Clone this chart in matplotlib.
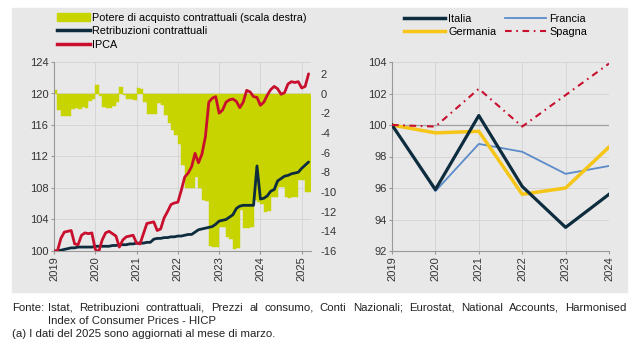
import numpy as np
import matplotlib
matplotlib.use("Agg")
from matplotlib import pyplot as plt
from matplotlib.patches import Rectangle, Patch
from matplotlib.lines import Line2D

plt.rcParams['font.family'] = ['Liberation Sans', 'DejaVu Sans']
plt.rcParams['axes.unicode_minus'] = False

# --- dati mensili (gen 2019 - mar 2025) ---
ipca = [100.0, 100.0, 101.6, 102.4, 102.5, 102.6, 100.9, 100.8, 102.0, 102.3, 102.2, 102.3,
        100.2, 99.9, 101.4, 102.3, 102.5, 102.2, 101.9, 100.5, 101.4, 101.8, 101.9, 102.0,
        101.0, 100.9, 102.2, 103.5, 103.6, 103.7, 102.6, 102.8, 104.2, 105.0, 105.9, 106.1,
        106.2, 107.7, 109.4, 109.9, 110.7, 112.4, 111.2, 112.3, 114.5, 118.9, 119.4, 119.6,
        117.5, 117.9, 118.9, 119.2, 119.3, 119.0, 118.2, 118.9, 120.4, 120.2, 119.6, 119.5,
        118.5, 118.9, 119.8, 120.5, 120.9, 120.6, 119.9, 120.1, 121.2, 121.5, 121.4, 121.5,
        120.7, 120.9, 122.5]
retribuzioni = [100.0, 100.0, 100.1, 100.2, 100.3, 100.4, 100.4, 100.5, 100.5, 100.5, 100.5, 100.5,
                100.6, 100.6, 100.6, 100.6, 100.6, 100.7, 100.7, 100.8, 100.8, 100.8, 100.9, 100.9,
                101.0, 101.0, 101.0, 101.1, 101.1, 101.5, 101.6, 101.6, 101.7, 101.7, 101.8, 101.8,
                101.9, 101.9, 102.0, 102.1, 102.1, 102.4, 102.7, 102.8, 102.9, 103.0, 103.1, 103.4,
                103.8, 103.9, 104.0, 104.3, 104.6, 105.4, 105.7, 105.8, 105.8, 105.8, 105.8, 110.8,
                106.6, 106.7, 107.0, 107.6, 107.8, 108.9, 109.2, 109.5, 109.6, 109.8, 109.9, 110.0,
                110.5, 110.9, 111.3]
potere = [0.4, -1.7, -2.3, -2.3, -2.3, -1.6, -1.5, -1.6, -1.4, -1.5, -0.8, -0.6,
          0.9, -0.3, -1.4, -1.5, -1.5, -1.3, -0.9, 0.7, -0.2, -0.6, -0.6, -0.7,
          0.6, 0.5, -0.9, -2.1, -2.1, -2.1, -1.0, -1.2, -2.2, -3.0, -3.7, -4.2,
          -5.1, -7.3, -9.6, -9.6, -9.6, -8.5, -9.6, -10.8, -10.9, -15.5, -15.6, -15.6,
          -13.6, -13.6, -14.6, -14.8, -15.8, -15.7, -11.8, -13.7, -13.7, -13.6, -10.8, -11.0,
          -11.2, -12.0, -11.9, -10.5, -10.5, -9.5, -9.5, -10.5, -10.6, -10.5, -10.5, -8.8,
          -8.8, -10.0, -10.0]
mesi = 2019 + np.arange(len(ipca)) / 12

# --- dati annuali ---
anni = [2019, 2020, 2021, 2022, 2023, 2024]
italia = [100.0, 95.9, 100.6, 96.1, 93.5, 95.6]
francia = [100.0, 95.8, 98.8, 98.3, 96.9, 97.4]
germania = [100.0, 99.5, 99.6, 95.6, 96.0, 98.6]
spagna = [100.0, 99.9, 102.3, 99.9, 101.9, 103.9]

BG = '#e8e8e8'
GRID = '#d3d3d3'
TXT = '#333333'
GIALLO = '#c8d400'
ROSSO = '#c8102e'
BLU = '#0d2c3e'
SPAGNA_LS = (0, (3.2, 2.2, 0.8, 2.2))

fig = plt.figure(figsize=(6.4, 3.43), dpi=100)
fig.patches.append(Rectangle((12/640, 1-292/343), 615/640, 284/343,
                             transform=fig.transFigure, color=BG, zorder=-5))

# ---------------- grafico sinistro ----------------
ax = fig.add_axes([54/640, 1-251/343, 257/640, 189/343])
ax.patch.set_visible(False)
ax2 = ax.twinx()
ax.set_xlim(2019, 2019 + 74.7/12)
ax.set_ylim(100, 124)
ax2.set_ylim(-16, 3.2)
ax.set_yticks(range(100, 125, 4))
ax2.set_yticks(range(-16, 3, 2))
ax.set_xticks(range(2019, 2026))
ax.set_xticklabels([str(a) for a in range(2019, 2026)], rotation=90)

ax.set_axisbelow(True)
ax.grid(True, color=GRID, lw=0.6)
# barre sulla scala destra, disegnate nell'asse principale per stare sotto le linee
ax.bar(mesi, potere, width=1/12, align='edge', color=GIALLO, lw=0.3, edgecolor=GIALLO,
       transform=ax2.transData, zorder=1)
ax.plot(mesi, retribuzioni, color=BLU, lw=2.0, zorder=3, solid_capstyle='round')
ax.plot(mesi, ipca, color=ROSSO, lw=2.0, zorder=4, solid_capstyle='round')

for a in (ax, ax2):
    for s in a.spines.values():
        s.set_visible(False)
ax.spines['left'].set_visible(True)
ax.spines['bottom'].set_visible(True)
ax.spines['left'].set_color('#999999')
ax.spines['bottom'].set_color('#999999')
ax.tick_params(axis='both', labelsize=8, colors=TXT, length=2, color='#999999', pad=2)
ax2.tick_params(axis='y', labelsize=8, colors=TXT, length=0, pad=7)

h1 = [Patch(color=GIALLO), Line2D([], [], color=BLU, lw=2.5), Line2D([], [], color=ROSSO, lw=2.5)]
fig.legend(h1, ['Potere di acquisto contrattuali (scala destra)', 'Retribuzioni contrattuali', 'IPCA'],
           loc='upper left', bbox_to_anchor=(57/640, 1-13/343), frameon=False, fontsize=7.8,
           handlelength=3.0, handletextpad=0.2, labelspacing=0.3, borderpad=0, borderaxespad=0)

# ---------------- grafico destro ----------------
bx = fig.add_axes([392/640, 1-251/343, 217/640, 189/343])
bx.patch.set_visible(False)
bx.set_xlim(2019, 2024)
bx.set_ylim(92, 104)
bx.set_yticks(range(92, 105, 2))
bx.set_xticks(anni)
bx.set_xticklabels([str(a) for a in anni], rotation=90)
bx.set_axisbelow(True)
bx.grid(True, color=GRID, lw=0.6)
bx.axhline(100, color='#a0a0a0', lw=0.9, zorder=1)
bx.plot(anni, francia, color='#5b8bc9', lw=1.3, zorder=3)
bx.plot(anni, germania, color='#f5c518', lw=2.5, zorder=4)
bx.plot(anni, italia, color=BLU, lw=2.3, zorder=5)
bx.plot(anni, spagna, color=ROSSO, lw=1.5, ls=SPAGNA_LS, zorder=6)
for s in bx.spines.values():
    s.set_visible(False)
bx.spines['left'].set_visible(True)
bx.spines['bottom'].set_visible(True)
bx.spines['left'].set_color('#999999')
bx.spines['bottom'].set_color('#999999')
bx.tick_params(axis='both', labelsize=8, colors=TXT, length=2, color='#999999', pad=2)

h2 = [Line2D([], [], color=BLU, lw=2.5), Line2D([], [], color='#f5c518', lw=2.5),
      Line2D([], [], color='#5b8bc9', lw=1.3),
      Line2D([], [], color=ROSSO, lw=1.5, ls=SPAGNA_LS)]
fig.legend(h2, ['Italia', 'Germania', 'Francia', 'Spagna'], ncol=2,
           loc='upper left', bbox_to_anchor=(404/640, 1-14/343), frameon=False, fontsize=7.8,
           handlelength=3.8, handletextpad=0.3, columnspacing=0.8, labelspacing=0.3,
           borderpad=0, borderaxespad=0)

# ---------------- note (prima riga giustificata) ----------------
riga1 = ('Istat, Retribuzioni contrattuali, Prezzi al consumo, Conti Nazionali; '
         'Eurostat, National Accounts, Harmonised')
FS = 8.2
NOTA = '#222222'
renderer = fig.canvas.get_renderer()
fig.text(12.5/640, 1-308/343, 'Fonte:', fontsize=FS, color=NOTA, va='center')
parole = []
for p in riga1.split(' '):
    t = fig.text(0, 1-308/343, p, fontsize=FS, color=NOTA, va='center')
    parole.append((t, t.get_window_extent(renderer).width))
x0, x1 = 48.0, 627.0
gap = (x1 - x0 - sum(w for _, w in parole)) / (len(parole) - 1)
xpos = x0
for t, w in parole:
    t.set_x(xpos / 640)
    xpos += w + gap
fig.text(48/640, 1-321/343, 'Index of Consumer Prices - HICP', fontsize=FS, color=NOTA, va='center')
fig.text(12.5/640, 1-334/343, '(a) I dati del 2025 sono aggiornati al mese di marzo.',
         fontsize=FS, color=NOTA, va='center')

fig.savefig('out.png', dpi=100)
